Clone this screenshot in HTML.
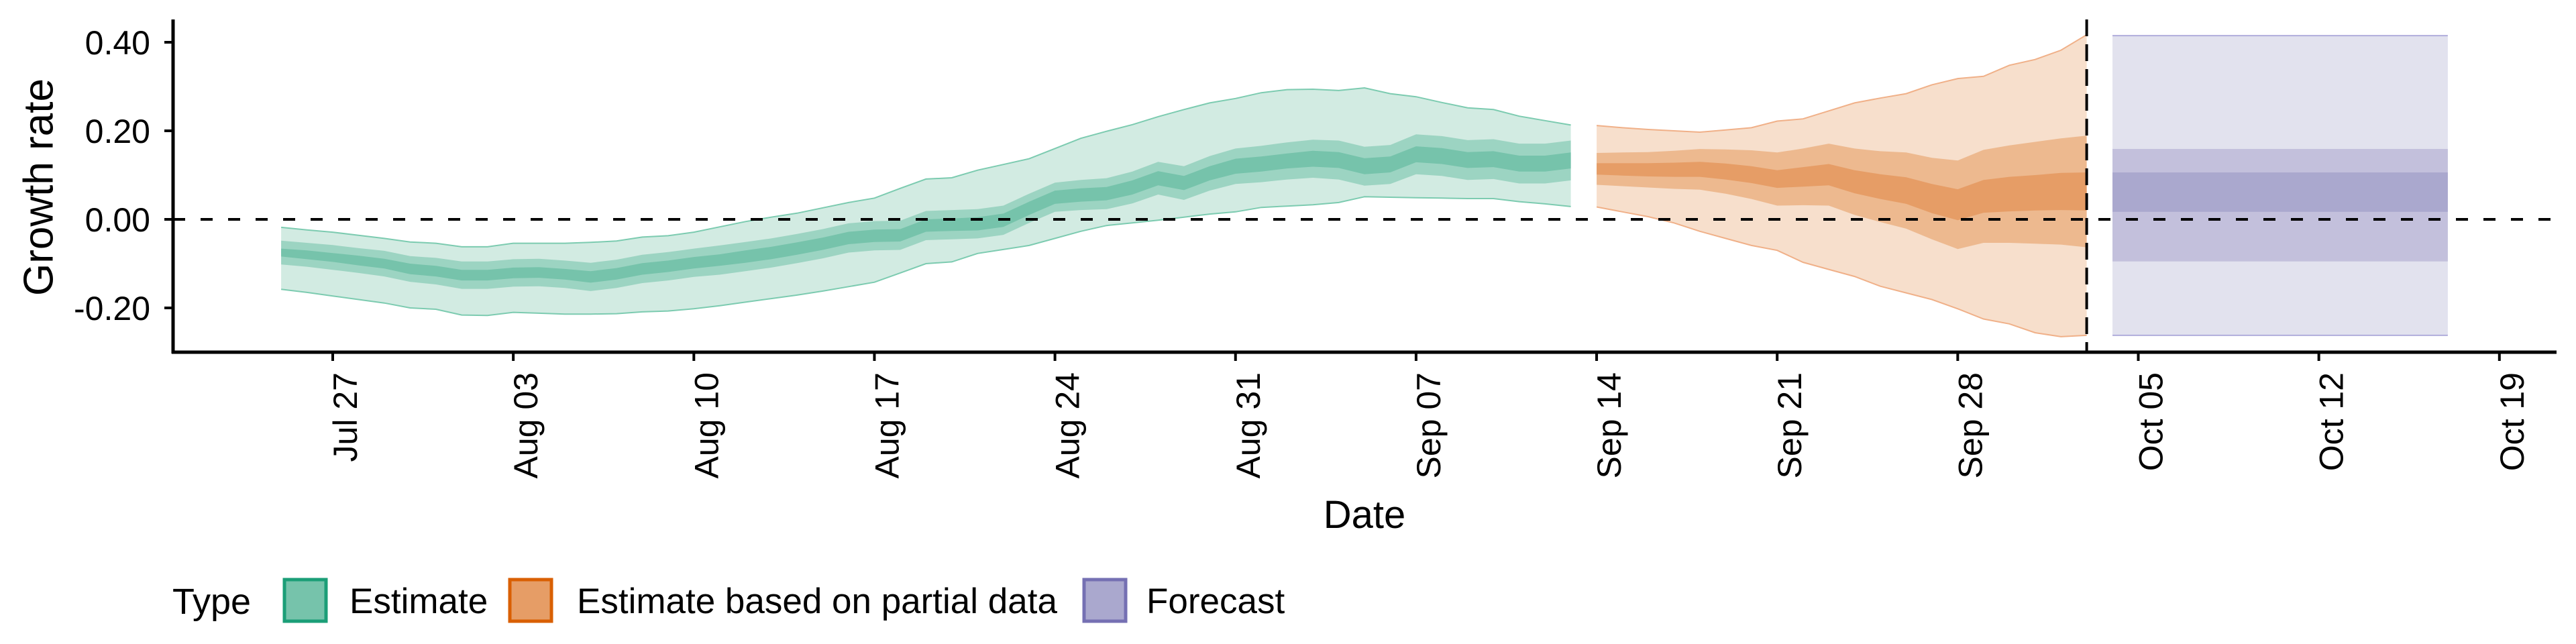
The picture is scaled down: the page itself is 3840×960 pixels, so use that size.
<!DOCTYPE html>
<html><head><meta charset="utf-8"><style>
html,body{margin:0;padding:0;background:#fff;}
svg{display:block;font-family:"Liberation Sans",Arial,sans-serif;}
</style></head><body>
<svg id="chart" width="3840" height="960" viewBox="0 0 3840 960" xmlns="http://www.w3.org/2000/svg">
<g id="marks"></g>
<g id="axes"></g>
<text x="58" y="279" font-size="62" text-anchor="middle" transform="rotate(-90 58 279)" dominant-baseline="central">Growth rate</text>
<text x="2034" y="787" font-size="58" text-anchor="middle">Date</text>
<g>
<text x="257" y="915" font-size="54">Type</text>
<g>
<rect x="424" y="864" width="62" height="62" fill="#76c3ab" stroke="#1b9e77" stroke-width="5"/>
<text x="521" y="914" font-size="53">Estimate</text></g>
<g>
<rect x="760" y="864" width="62" height="62" fill="#e69d66" stroke="#d95f02" stroke-width="5"/>
<text x="860" y="914" font-size="53">Estimate based on partial data</text></g>
<g>
<rect x="1616" y="864" width="62" height="62" fill="#aaa8ce" stroke="#7570b3" stroke-width="5"/>
<text x="1709" y="914" font-size="53">Forecast</text></g>
</g>
</svg>
<script>
// days relative to Jul 27
const estStart = -2;
const estMedian = [-0.075,-0.080,-0.086,-0.093,-0.100,-0.112,-0.117,-0.126,-0.126,-0.121,-0.120,-0.124,-0.130,-0.123,-0.112,-0.106,-0.098,-0.092,-0.084,-0.076,-0.066,-0.055,-0.042,-0.037,-0.036,-0.014,-0.012,-0.010,-0.002,0.025,0.050,0.055,0.058,0.072,0.093,0.082,0.104,0.120,0.125,0.132,0.137,0.134,0.120,0.124,0.147,0.143,0.134,0.136,0.126,0.126,0.133];
const estUpper90 = [-0.018,-0.024,-0.029,-0.036,-0.043,-0.051,-0.054,-0.062,-0.062,-0.054,-0.054,-0.054,-0.052,-0.049,-0.040,-0.037,-0.029,-0.017,-0.005,0.005,0.014,0.026,0.038,0.048,0.070,0.091,0.094,0.111,0.124,0.137,0.160,0.183,0.199,0.214,0.232,0.248,0.263,0.273,0.286,0.293,0.294,0.291,0.297,0.284,0.277,0.264,0.252,0.248,0.233,0.223,0.213];
const estLower90 = [-0.158,-0.165,-0.173,-0.181,-0.189,-0.200,-0.203,-0.216,-0.217,-0.210,-0.212,-0.214,-0.214,-0.213,-0.209,-0.207,-0.202,-0.195,-0.187,-0.179,-0.171,-0.162,-0.152,-0.142,-0.121,-0.100,-0.096,-0.077,-0.068,-0.059,-0.043,-0.027,-0.014,-0.008,-0.002,0.005,0.012,0.017,0.027,0.030,0.033,0.038,0.051,0.050,0.049,0.048,0.047,0.047,0.040,0.035,0.029];
const estHalf50 = [0.027,0.027,0.028,0.028,0.029,0.029,0.030,0.031,0.031,0.031,0.031,0.031,0.032,0.032,0.032,0.032,0.032,0.033,0.033,0.033,0.033,0.033,0.033,0.033,0.033,0.033,0.033,0.033,0.033,0.033,0.033,0.034,0.035,0.036,0.037,0.038,0.039,0.040,0.041,0.042,0.043,0.044,0.044,0.044,0.045,0.045,0.045,0.045,0.045,0.045,0.045];
const estHalf20 = [0.009,0.010,0.010,0.011,0.011,0.012,0.012,0.012,0.012,0.012,0.012,0.012,0.013,0.013,0.013,0.013,0.013,0.013,0.014,0.014,0.014,0.014,0.014,0.014,0.014,0.014,0.014,0.015,0.015,0.015,0.015,0.015,0.015,0.016,0.016,0.016,0.016,0.017,0.017,0.017,0.018,0.018,0.018,0.018,0.018,0.018,0.018,0.018,0.018,0.018,0.018];
const partStart = 49;
const partMedian = [0.114,0.113,0.112,0.112,0.113,0.108,0.101,0.091,0.096,0.101,0.085,0.074,0.065,0.047,0.033,0.052,0.057,0.060,0.063,0.063];
const partUpper90 = [0.212,0.207,0.203,0.200,0.197,0.202,0.207,0.222,0.227,0.245,0.263,0.274,0.284,0.304,0.318,0.323,0.348,0.361,0.382,0.417];
const partLower90 = [0.028,0.017,0.006,-0.008,-0.027,-0.043,-0.059,-0.070,-0.097,-0.113,-0.129,-0.151,-0.166,-0.181,-0.202,-0.225,-0.236,-0.256,-0.265,-0.262];
const partHalf50 = [0.036,0.038,0.040,0.043,0.046,0.050,0.055,0.060,0.064,0.070,0.075,0.080,0.086,0.092,0.100,0.105,0.110,0.115,0.120,0.126];
const partHalf20 = [0.013,0.014,0.015,0.016,0.017,0.018,0.019,0.020,0.022,0.024,0.026,0.028,0.030,0.033,0.035,0.037,0.039,0.040,0.042,0.043];
const forecastDays = [69, 82];
const forecastQuantiles = [-0.262, -0.095, 0.017, 0.106, 0.159, 0.415];
const dataCutoffDay = 68;
const yTicks = [-0.2, 0, 0.2, 0.4];
const yTickLabels = ["-0.20","0.00","0.20","0.40"];
const xTickDays = [0,7,14,21,28,35,42,49,56,63,70,77,84];
const xTickLabels = ["Jul 27","Aug 03","Aug 10","Aug 17","Aug 24","Aug 31","Sep 07","Sep 14","Sep 21","Sep 28","Oct 05","Oct 12","Oct 19"];

const NS = "http://www.w3.org/2000/svg";
const X0 = 496, PXD = 38.45, Y0 = 327, PXV = 660;
const L = 258, R = 3811, T = 29, B = 525;
function xs(d){ return X0 + d*PXD; }
function ys(v){ return Y0 - v*PXV; }
const marks = document.getElementById('marks');
const axes = document.getElementById('axes');
function mk(tag, attrs, parent){ const e = document.createElementNS(NS, tag); for (const k in attrs) e.setAttribute(k, attrs[k]); parent.appendChild(e); return e; }
function ribbon(start, lo, hi, fill, stroke, name){
  let up = [], dn = [];
  for (let i=0;i<lo.length;i++){ up.push(xs(start+i).toFixed(1)+','+ys(hi[i]).toFixed(1)); dn.push(xs(start+i).toFixed(1)+','+ys(lo[i]).toFixed(1)); }
  const p = mk('path', {d:'M'+up.join('L')+'L'+dn.reverse().join('L')+'Z', fill:fill}, marks);
  
  
  if (stroke){
    const a = mk('polyline', {points: up.join(' '), fill:'none', stroke:stroke, 'stroke-width':2}, marks);
    
    
    const b = mk('polyline', {points: dn.join(' '), fill:'none', stroke:stroke, 'stroke-width':2}, marks);
    
    
  }
}
function bands(start, med, lo90, hi90, h50, h20, cols, stroke, prefix){
  ribbon(start, lo90, hi90, cols[0], stroke, prefix+'-band-90');
  ribbon(start, med.map((m,i)=>m-h50[i]), med.map((m,i)=>m+h50[i]), cols[1], null, prefix+'-band-50');
  ribbon(start, med.map((m,i)=>m-h20[i]), med.map((m,i)=>m+h20[i]), cols[2], null, prefix+'-band-20');
}
bands(estStart, estMedian, estLower90, estUpper90, estHalf50, estHalf20, ['#d2ebe2','#9cd4c2','#76c3ab'], '#7ccbb0', 'estimate');
bands(partStart, partMedian, partLower90, partUpper90, partHalf50, partHalf20, ['#f7dfcc','#edb98f','#e69d66'], '#f0b088', 'partial');
// forecast
const fq = forecastQuantiles, fx0 = xs(forecastDays[0]), fx1 = xs(forecastDays[1]);
const fcols = ['#e2e2ee','#c3c0dc','#aaa8ce'];
for (let k=0;k<3;k++){
  const r = mk('rect', {x:fx0, y:ys(fq[5-k]), width:fx1-fx0, height:ys(fq[k])-ys(fq[5-k]), fill:fcols[k]}, marks);
  
  
}
[fq[0], fq[5]].forEach((v,i)=>{
  const l = mk('line', {x1:fx0, x2:fx1, y1:ys(v), y2:ys(v), stroke:'#b0addb', 'stroke-width':2}, marks);
  
  
});
// reference lines
const zl = mk('line', {x1:L, x2:R, y1:ys(0), y2:ys(0), stroke:'#000', 'stroke-width':4, 'stroke-dasharray':'18 23'}, axes);


const vl = mk('line', {x1:xs(dataCutoffDay), x2:xs(dataCutoffDay), y1:T, y2:B, stroke:'#000', 'stroke-width':4, 'stroke-dasharray':'25 12'}, axes);


// axes
const ya = mk('line', {x1:L, x2:L, y1:T, y2:B+2, stroke:'#000', 'stroke-width':5}, axes);


const xa = mk('line', {x1:L-2, x2:R, y1:B, y2:B, stroke:'#000', 'stroke-width':5}, axes);


yTicks.forEach((v,i)=>{
  const t = mk('line', {x1:L-13, x2:L, y1:ys(v), y2:ys(v), stroke:'#000', 'stroke-width':4}, axes);
  
  
  const tx = mk('text', {x:224, y:ys(v)+18, 'font-size':50, 'text-anchor':'end'}, axes);
  tx.textContent = yTickLabels[i];
  
  
});
xTickDays.forEach((d,i)=>{
  const x = xs(d);
  const t = mk('line', {x1:x, x2:x, y1:B, y2:B+13, stroke:'#000', 'stroke-width':4}, axes);
  
  
  const bx = x+36, by = 555;
  const tx = mk('text', {x:bx, y:by, 'font-size':50, 'text-anchor':'end', transform:'rotate(-90 '+bx+' '+by+')'}, axes);
  tx.textContent = xTickLabels[i];
  
  
});
</script>
</body></html>
